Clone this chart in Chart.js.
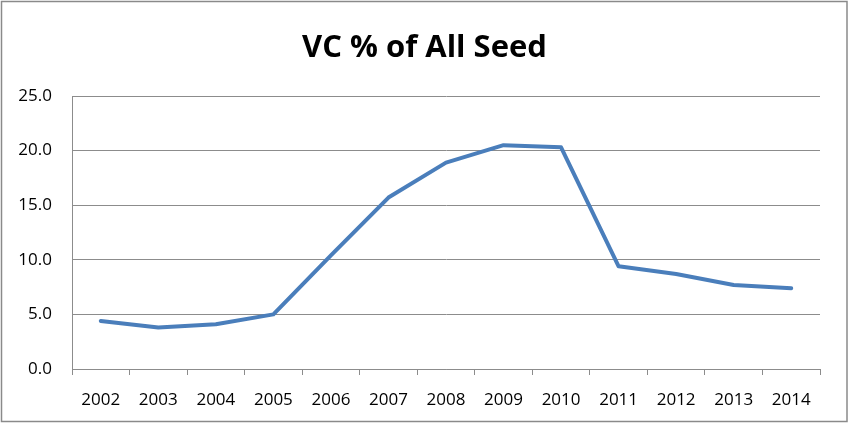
<!DOCTYPE html>
<html>
<head>
<meta charset="utf-8">
<script src="https://cdn.jsdelivr.net/npm/chart.js@4"></script>
<style>
	body { margin: 0; background: #fff; }
	#wrap { width: 849px; height: 423px; }
</style>
</head>
<body>
<div id="wrap"><canvas id="vcChart" width="849" height="423"></canvas></div>
<script>
const years = ['2002', '2003', '2004', '2005', '2006', '2007', '2008', '2009', '2010', '2011', '2012', '2013', '2014'];
const vcShare = [4.4, 3.8, 4.1, 5.0, 10.4, 15.7, 18.9, 20.5, 20.3, 9.4, 8.7, 7.7, 7.4];
const yTicks = [0, 5, 10, 15, 20, 25];

const gridGray = '#8c8c8c';

// outer frame round the whole chart
const frame = {
	id: 'frame',
	afterDraw(chart) {
		const c = chart.ctx;
		c.save();
		c.strokeStyle = '#8a8a8a';
		c.lineWidth = 1.5;
		c.strokeRect(1.5, 1.5, 845.5, 420);
		c.restore();
	}
};

new Chart(document.getElementById('vcChart').getContext('2d'), {
	type: 'line',
	data: {
		labels: years,
		datasets: [{
			label: 'VC % of All Seed',
			data: vcShare,
			borderColor: '#4a7ebb',
			borderWidth: 4,
			borderJoinStyle: 'round',
			borderCapStyle: 'round',
			pointRadius: 0,
			tension: 0,
			fill: false
		}]
	},
	options: {
		responsive: false,
		animation: false,
		layout: { padding: 0 },
		plugins: {
			legend: { display: false },
			tooltip: { enabled: false },
			title: {
				display: true,
				text: 'VC % of All Seed',
				color: '#000',
				font: { family: 'Open Sans', size: 31, weight: 'bold', lineHeight: 1.2 },
				padding: { top: 29.6, bottom: 29.2 }
			}
		},
		scales: {
			x: {
				offset: true,
				grid: { offset: true, drawOnChartArea: false, drawTicks: true, tickLength: 6, color: gridGray },
				border: { display: true, color: gridGray, width: 1 },
				ticks: { color: '#000', padding: 15, maxRotation: 0, font: { family: 'Open Sans', size: 17 } },
				afterFit(scale) { scale.height = 54; }
			},
			y: {
				min: 0,
				max: 25,
				afterBuildTicks(scale) { scale.ticks = yTicks.map(v => ({ value: v })); },
				grid: { drawTicks: false, color: gridGray },
				border: { display: true, color: gridGray, width: 1 },
				ticks: {
					color: '#000',
					padding: 20,
					font: { family: 'Open Sans', size: 17 },
					callback: v => Number(v).toFixed(1)
				},
				afterFit(scale) { scale.width = 72; }
			},
			// empty strip on the right so the title stays centred on the whole canvas
			yRight: {
				position: 'right',
				min: 0,
				max: 25,
				grid: { display: false },
				border: { display: false },
				ticks: { display: false },
				afterFit(scale) { scale.width = 29; }
			}
		}
	},
	plugins: [frame]
});
</script>
</body>
</html>
